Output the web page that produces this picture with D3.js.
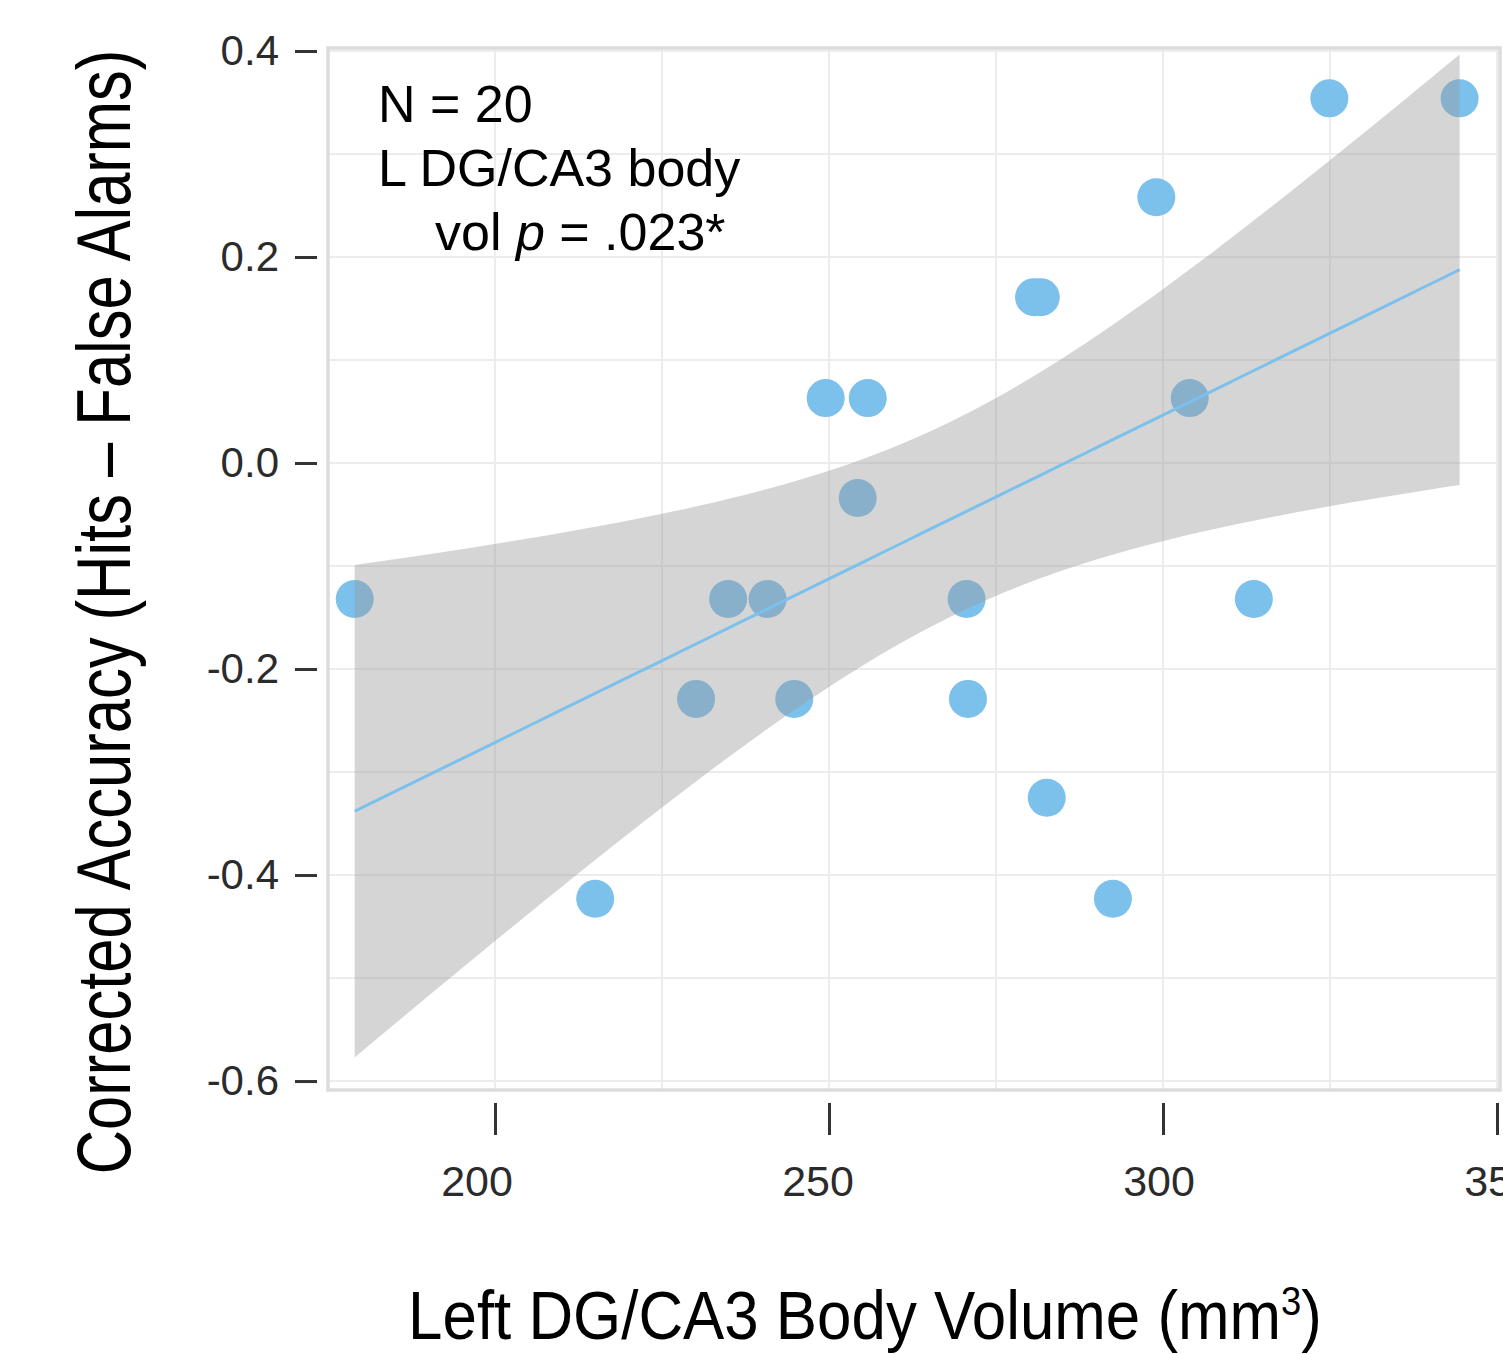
<!DOCTYPE html>
<html>
<head>
<meta charset="utf-8">
<script src="https://cdn.jsdelivr.net/npm/d3@7"></script>
<style>
  body { margin: 0; background: #fff; }
  svg { display: block; font-family: "Helvetica Neue", Helvetica, Arial, "Liberation Sans", sans-serif; }
</style>
</head>
<body>
<svg width="1503" height="1354"></svg>
<script>
// left DG/CA3 body volume (mm3), one per subject
let volume = [179.0, 215.0, 230.1, 234.9, 240.8, 244.8, 249.5, 255.8, 254.3, 270.6,
              270.8, 280.7, 281.7, 282.6, 292.5, 299.0, 304.0, 313.6, 324.9, 344.4];
// corrected accuracy (hits - false alarms), same order
let accuracy = [-0.132, -0.423, -0.229, -0.132, -0.132, -0.229, 0.063, 0.063, -0.034, -0.132,
                -0.229, 0.161, 0.161, -0.325, -0.423, 0.258, 0.063, -0.132, 0.354, 0.354];

let xTicks = [200, 250, 300, 350];
let xMinor = [225, 275, 325];
let yTicks = [-0.6, -0.4, -0.2, 0.0, 0.2, 0.4];
let yMinor = [-0.5, -0.3, -0.1, 0.1, 0.3];

let notes = ["N = 20", "L DG/CA3 body"];

// 95% t quantile, df = 18
const T_CRIT = 2.101;

let svg = d3.select("svg"),
    panel = { left: 328, right: 1500, top: 48, bottom: 1090 };

let x = d3.scaleLinear().domain([175, 350.45]).range([panel.left, panel.right]);
let y = d3.scaleLinear().domain([-0.6087, 0.4029]).range([panel.bottom, panel.top]);
// tick labels sit a bit off their ticks in the original
let xLabel = d3.scaleLinear().domain([200, 350]).range([477, 1500]);

let points = volume.map((v, i) => ({ x: v, y: accuracy[i] }));

// linear fit + confidence band
let n = points.length,
    mx = d3.mean(points, d => d.x),
    my = d3.mean(points, d => d.y),
    sxx = d3.sum(points, d => (d.x - mx) * (d.x - mx)),
    sxy = d3.sum(points, d => (d.x - mx) * (d.y - my)),
    slope = sxy / sxx,
    icpt = my - slope * mx,
    rss = d3.sum(points, d => Math.pow(d.y - (icpt + slope * d.x), 2)),
    s = Math.sqrt(rss / (n - 2));

let x0 = d3.min(volume), x1 = d3.max(volume);
let fit = d3.range(81).map(function (i) {
    let xv = x0 + (x1 - x0) * i / 80,
        yv = icpt + slope * xv,
        se = s * Math.sqrt(1 / n + (xv - mx) * (xv - mx) / sxx);
    return { x: xv, y: yv, lo: yv - T_CRIT * se, hi: yv + T_CRIT * se };
});

// grid
let grid = svg.append("g").attr("stroke", "#ececec").attr("stroke-width", 2);
grid.selectAll(".vx")
    .data(xTicks.concat(xMinor))
    .enter().append("line")
    .attr("x1", d => x(d)).attr("x2", d => x(d))
    .attr("y1", panel.top).attr("y2", panel.bottom);
grid.selectAll(".hy")
    .data(yTicks.concat(yMinor))
    .enter().append("line")
    .attr("x1", panel.left).attr("x2", panel.right)
    .attr("y1", d => y(d)).attr("y2", d => y(d));

// points
svg.append("g")
    .selectAll("circle")
    .data(points)
    .enter().append("circle")
    .attr("cx", d => x(d.x))
    .attr("cy", d => y(d.y))
    .attr("r", 19)
    .attr("fill", "#7cc0ec");

// band on top of the points
svg.append("path")
    .datum(fit)
    .attr("fill", "#9a9a9a")
    .attr("fill-opacity", 0.42)
    .attr("d", d3.area().x(d => x(d.x)).y0(d => y(d.lo)).y1(d => y(d.hi)));

svg.append("path")
    .datum(fit)
    .attr("fill", "none")
    .attr("stroke", "#7cc0ec")
    .attr("stroke-width", 3)
    .attr("d", d3.line().x(d => x(d.x)).y(d => y(d.y)));

// panel border
svg.append("rect")
    .attr("x", panel.left)
    .attr("y", panel.top)
    .attr("width", panel.right - panel.left)
    .attr("height", panel.bottom - panel.top)
    .attr("fill", "none")
    .attr("stroke", "#dcdcdc")
    .attr("stroke-width", 3.5);

// y axis
let yAxis = svg.append("g")
    .attr("transform", "translate(317,0)")
    .call(d3.axisLeft(y).tickValues(yTicks).tickSize(22).tickPadding(16)
        .tickFormat(d => d.toFixed(1)));
yAxis.select(".domain").remove();
yAxis.selectAll(".tick line").attr("stroke", "#333").attr("stroke-width", 3);
yAxis.selectAll(".tick text")
    .attr("fill", "#2b2b2b")
    .style("font-size", "42px")
    .style("font-family", null);

// x axis: ticks from the axis, labels from the label scale
let xAxis = svg.append("g")
    .attr("transform", "translate(0,1103)")
    .call(d3.axisBottom(x).tickValues(xTicks).tickSize(32).tickFormat(""));
xAxis.select(".domain").remove();
xAxis.selectAll(".tick line").attr("stroke", "#333").attr("stroke-width", 3);

svg.append("g")
    .selectAll("text")
    .data(xTicks)
    .enter().append("text")
    .attr("x", d => xLabel(d))
    .attr("y", 1196)
    .attr("text-anchor", "middle")
    .attr("fill", "#2b2b2b")
    .style("font-size", "43px")
    .text(d => d);

// annotation
svg.append("g")
    .selectAll("text")
    .data(notes)
    .enter().append("text")
    .attr("x", 378)
    .attr("y", (d, i) => 122 + i * 64)
    .style("font-size", "52px")
    .text(d => d);

let pLine = svg.append("text")
    .attr("x", 435)
    .attr("y", 250)
    .style("font-size", "52px");
pLine.append("tspan").text("vol ");
pLine.append("tspan").style("font-style", "italic").text("p");
pLine.append("tspan").text(" = .023*");

// axis titles, squeezed to the original widths
let xTitle = svg.append("text")
    .attr("text-anchor", "middle")
    .style("font-size", "68px");
xTitle.append("tspan").text("Left DG/CA3 Body Volume (mm");
xTitle.append("tspan").attr("dy", -24).style("font-size", "40px").text("3");
xTitle.append("tspan").attr("dy", 24).text(")");
let xw = xTitle.node().getBBox().width;
xTitle.attr("transform", "translate(865,1339) scale(" + (914 / xw) + ",1)");

let yTitle = svg.append("text")
    .attr("text-anchor", "middle")
    .style("font-size", "76px")
    .text("Corrected Accuracy (Hits \u2013 False Alarms)");
let yw = yTitle.node().getBBox().width;
yTitle.attr("transform", "translate(130,612) rotate(-90) scale(" + (1125 / yw) + ",1)");
</script>
</body>
</html>
